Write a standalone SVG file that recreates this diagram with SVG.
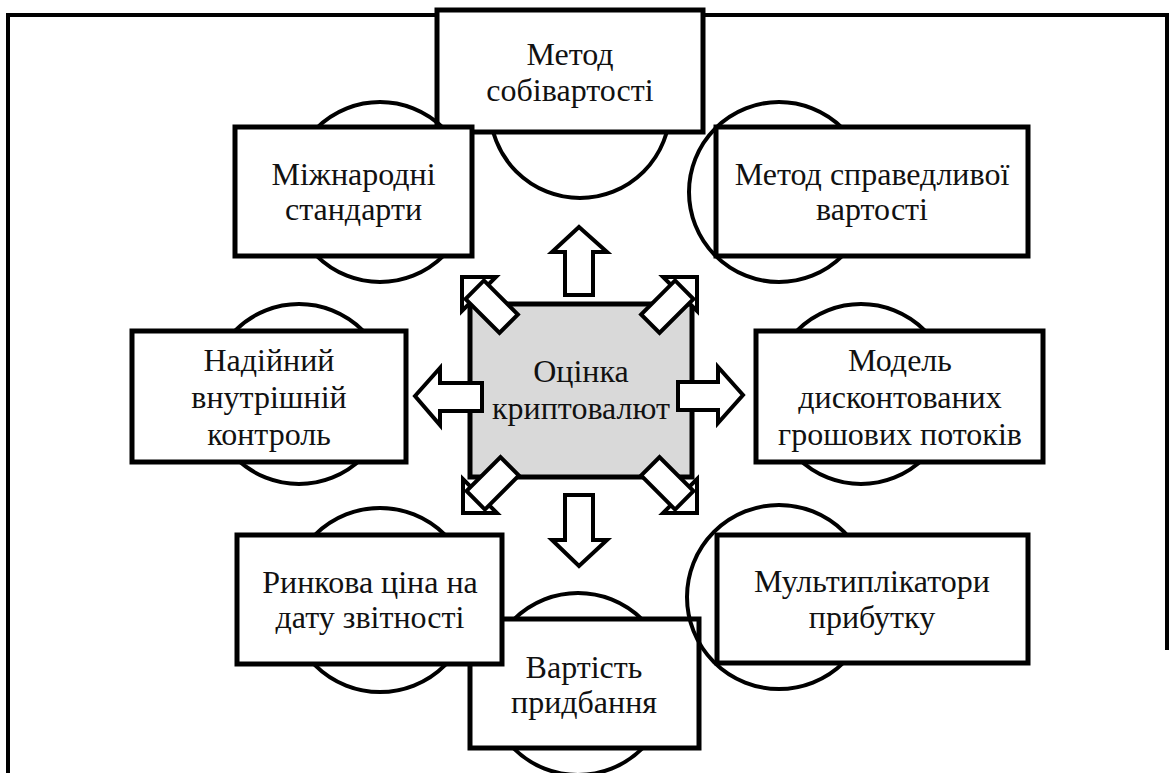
<svg xmlns="http://www.w3.org/2000/svg" width="1176" height="773" viewBox="0 0 1176 773">
<style>
.frame{fill:none;stroke:#000;stroke-width:4}
.circ{fill:none;stroke:#000;stroke-width:4}
.box{fill:#fff;stroke:#000;stroke-width:5}
.cbox{fill:#d9d9d9;stroke:#000;stroke-width:5}
.arr{fill:#fff;stroke:#000;stroke-width:4;stroke-linejoin:miter}
.t{font-family:'Liberation Serif','Times New Roman',serif;font-size:32px;fill:#111;text-anchor:middle}
</style>
<defs>
<g id="diag">
<polygon class="arr" points="0,0 24,24 -24,24"/>
<rect class="arr" x="-13" y="18" width="26" height="48"/>
</g>
</defs>
<rect width="1176" height="773" fill="#fff"/>
<g id="frame">
<polyline class="frame" points="8,773 8,15 1167,15 1167,650"/>
</g>
<g id="n-top">
<circle class="circ" cx="580" cy="108" r="90"/>
<rect class="box" x="437" y="10" width="266" height="122"/>
<text class="t" x="570" y="65">Метод</text>
<text class="t" x="570" y="101">собівартості</text>
</g>
<g id="n-intl">
<circle class="circ" cx="380" cy="192" r="90"/>
<rect class="box" x="235" y="127" width="237" height="129"/>
<text class="t" x="353.5" y="185">Міжнародні</text>
<text class="t" x="353.5" y="220">стандарти</text>
</g>
<g id="n-fair">
<circle class="circ" cx="779" cy="192" r="90"/>
<rect class="box" x="716" y="127" width="312" height="129"/>
<text class="t" x="872" y="185">Метод справедливої</text>
<text class="t" x="872" y="220">вартості</text>
</g>
<g id="n-control">
<circle class="circ" cx="299" cy="394" r="90"/>
<rect class="box" x="132" y="331" width="274" height="131"/>
<text class="t" x="269" y="371">Надійний</text>
<text class="t" x="269" y="408">внутрішній</text>
<text class="t" x="269" y="445">контроль</text>
</g>
<g id="n-dcf">
<circle class="circ" cx="861" cy="394" r="90"/>
<rect class="box" x="756" y="331" width="287" height="131"/>
<text class="t" x="900" y="371">Модель</text>
<text class="t" x="900" y="408">дисконтованих</text>
<text class="t" x="900" y="445">грошових потоків</text>
</g>
<g id="n-cost">
<circle class="circ" cx="578" cy="684" r="91"/>
<rect class="box" x="470" y="619" width="229" height="129"/>
<text class="t" x="584" y="678">Вартість</text>
<text class="t" x="584" y="713">придбання</text>
</g>
<g id="n-market">
<circle class="circ" cx="380" cy="600" r="92"/>
<rect class="box" x="237" y="535" width="265" height="129"/>
<text class="t" x="370" y="593">Ринкова ціна на</text>
<text class="t" x="370" y="628">дату звітності</text>
</g>
<g id="n-mult">
<circle class="circ" cx="779" cy="597" r="92"/>
<rect class="box" x="717" y="535" width="311" height="128"/>
<text class="t" x="872" y="592">Мультиплікатори</text>
<text class="t" x="872" y="628">прибутку</text>
</g>
<g id="n-center">
<rect class="cbox" x="470" y="304" width="222" height="173"/>
<text class="t" x="581" y="382">Оцінка</text>
<text class="t" x="581" y="419">криптовалют</text>
</g>
<g id="connectors">
<polygon class="arr" points="579,227 607,252 593,252 593,295 565,295 565,252 552,252"/>
<polygon class="arr" points="565,495 593,495 593,540 607,540 579,566 552,540 565,540"/>
<polygon class="arr" points="415,396 440,368 440,383 482,383 482,411 440,411 440,425"/>
<polygon class="arr" points="678,382 718,382 718,367 743,395 718,423 718,410 678,410"/>
<use href="#diag" transform="translate(462,277) rotate(-45)"/>
<use href="#diag" transform="translate(697,277) rotate(45)"/>
<use href="#diag" transform="translate(463,513) rotate(-135)"/>
<use href="#diag" transform="translate(697,513) rotate(135)"/>
</g>
</svg>
